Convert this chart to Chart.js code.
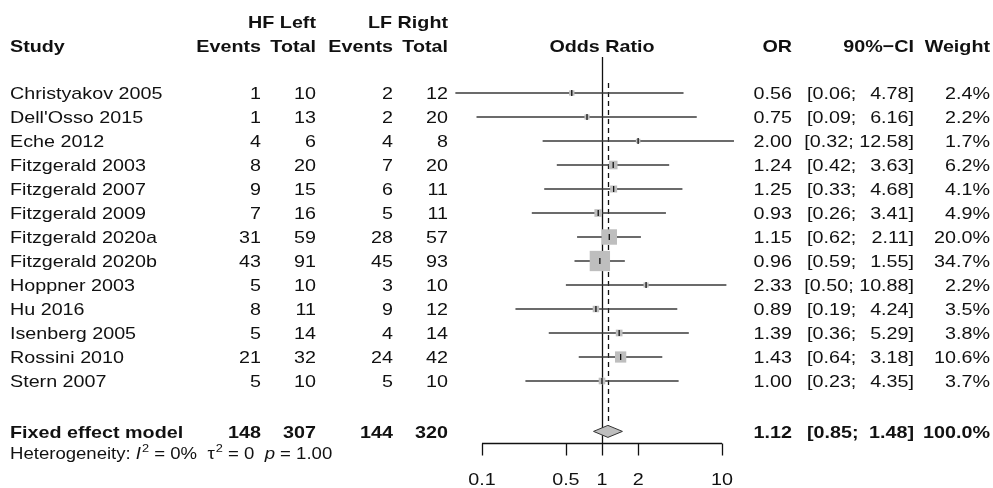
<!DOCTYPE html>
<html>
<head>
<meta charset="utf-8">
<script src="https://cdn.jsdelivr.net/npm/chart.js@4.4.0/dist/chart.umd.min.js"></script>
<style>
  body { margin: 0; background: #fff; }
  canvas { display: block; }
</style>
</head>
<body>
<canvas id="canvasForest" width="993" height="488"></canvas>
<script>
// donnees
const studies = ["Christyakov 2005", "Dell'Osso 2015", "Eche 2012", "Fitzgerald 2003", "Fitzgerald 2007",
    "Fitzgerald 2009", "Fitzgerald 2020a", "Fitzgerald 2020b", "Hoppner 2003", "Hu 2016",
    "Isenberg 2005", "Rossini 2010", "Stern 2007"]
const hfEvents = [1, 1, 4, 8, 9, 7, 31, 43, 5, 8, 5, 21, 5]
const hfTotal = [10, 13, 6, 20, 15, 16, 59, 91, 10, 11, 14, 32, 10]
const lfEvents = [2, 2, 4, 7, 6, 5, 28, 45, 3, 9, 4, 24, 5]
const lfTotal = [12, 20, 8, 20, 11, 11, 57, 93, 10, 12, 14, 42, 10]
const oddsRatio = [0.56, 0.75, 2.00, 1.24, 1.25, 0.93, 1.15, 0.96, 2.33, 0.89, 1.39, 1.43, 1.00]
const ciLower = [0.06, 0.09, 0.32, 0.42, 0.33, 0.26, 0.62, 0.59, 0.50, 0.19, 0.36, 0.64, 0.23]
const ciUpper = [4.78, 6.16, 12.58, 3.63, 4.68, 3.41, 2.11, 1.55, 10.88, 4.24, 5.29, 3.18, 4.35]
const weights = [2.4, 2.2, 1.7, 6.2, 4.1, 4.9, 20.0, 34.7, 2.2, 3.5, 3.8, 10.6, 3.7]
const fixedLabel = "Fixed effect model"
const fixedCounts = [148, 307, 144, 320]
const fixedEffect = [1.12, 0.85, 1.48]   // OR, borne basse, borne haute
const fixedWeight = 100.0
const axisTicks = [0.1, 0.5, 1, 2, 10]
const tickLabels = ["0.1", "0.5", "1", "2", "10"]

const FIXED_ROW = 14.1
const HET_ROW = 15.0
const SX = 1.16   // le texte du modele est un peu etire en largeur
const POLICE = '"Liberation Sans", Arial, sans-serif'
const GRIS = "#bebebe"

function texte(ctx, str, x, y, align, font) {
    ctx.font = font
    let w = ctx.measureText(str).width * SX
    let x0 = x
    if (align === "right") x0 = x - w
    if (align === "center") x0 = x - w / 2
    ctx.save()
    ctx.textAlign = "left"
    ctx.textBaseline = "alphabetic"
    ctx.translate(x0, y)
    ctx.scale(SX, 1)
    ctx.fillText(str, 0, 0)
    ctx.restore()
    return x0 + w
}

// intervalle "[a; b]" : gauche calee a 807, droite a 914, sauf si trop large
function texteIC(ctx, lo, hi, y, font) {
    let complet = "[" + lo.toFixed(2) + "; " + hi.toFixed(2) + "]"
    ctx.font = font
    if (ctx.measureText(complet).width * SX > 914 - 807) {
        texte(ctx, complet, 914, y, "right", font)
    } else {
        texte(ctx, "[" + lo.toFixed(2) + ";", 807, y, "left", font)
        texte(ctx, hi.toFixed(2) + "]", 914, y, "right", font)
    }
}

const forestPlugin = {
    id: "forest",
    beforeDatasetsDraw(chart) {
        let ctx = chart.ctx
        let xs = chart.scales.x
        let ys = chart.scales.y
        let area = chart.chartArea
        ctx.save()
        // ligne d'absence d'effet
        let x1 = Math.round(xs.getPixelForValue(1)) + 0.5
        ctx.strokeStyle = "#111"
        ctx.lineWidth = 1.3
        ctx.beginPath()
        ctx.moveTo(x1, area.top)
        ctx.lineTo(x1, area.bottom)
        ctx.stroke()
        // effet combine en pointille
        let xf = Math.round(xs.getPixelForValue(fixedEffect[0])) + 0.5
        ctx.setLineDash([5, 4])
        ctx.beginPath()
        ctx.moveTo(xf, ys.getPixelForValue(-0.42))
        ctx.lineTo(xf, ys.getPixelForValue(FIXED_ROW) - 6)
        ctx.stroke()
        ctx.restore()
    },
    afterDatasetsDraw(chart) {
        let ctx = chart.ctx
        let xs = chart.scales.x
        let ys = chart.scales.y
        let area = chart.chartArea
        ctx.save()

        // losange du modele a effet fixe
        let yf = ys.getPixelForValue(FIXED_ROW)
        ctx.beginPath()
        ctx.moveTo(xs.getPixelForValue(fixedEffect[1]), yf)
        ctx.lineTo(xs.getPixelForValue(fixedEffect[0]), yf - 6)
        ctx.lineTo(xs.getPixelForValue(fixedEffect[2]), yf)
        ctx.lineTo(xs.getPixelForValue(fixedEffect[0]), yf + 6)
        ctx.closePath()
        ctx.fillStyle = GRIS
        ctx.fill()
        ctx.strokeStyle = "#333"
        ctx.lineWidth = 1
        ctx.stroke()

        // axe des x
        let ya = Math.round(area.bottom) + 0.5
        ctx.strokeStyle = "#111"
        ctx.lineWidth = 1.3
        ctx.beginPath()
        ctx.moveTo(xs.getPixelForValue(axisTicks[0]), ya)
        ctx.lineTo(xs.getPixelForValue(axisTicks[axisTicks.length - 1]), ya)
        for (let t of axisTicks) {
            let xt = Math.round(xs.getPixelForValue(t)) + 0.5
            ctx.moveTo(xt, ya)
            ctx.lineTo(xt, ya + 12)
        }
        ctx.stroke()

        ctx.fillStyle = "#111"
        let normal = "17px " + POLICE
        let gras = "bold 17px " + POLICE
        for (let i in axisTicks) {
            texte(ctx, tickLabels[i], xs.getPixelForValue(axisTicks[i]), 485, "center", normal)
        }

        // entetes
        texte(ctx, "HF Left", 316, 27.6, "right", gras)
        texte(ctx, "LF Right", 448, 27.6, "right", gras)
        let yh = 51.6
        texte(ctx, "Study", 10, yh, "left", gras)
        texte(ctx, "Events", 261, yh, "right", gras)
        texte(ctx, "Total", 316, yh, "right", gras)
        texte(ctx, "Events", 393, yh, "right", gras)
        texte(ctx, "Total", 448, yh, "right", gras)
        texte(ctx, "Odds Ratio", xs.getPixelForValue(1), yh, "center", gras)
        texte(ctx, "OR", 792, yh, "right", gras)
        texte(ctx, "90%\u2212CI", 914, yh, "right", gras)
        texte(ctx, "Weight", 990, yh, "right", gras)

        // lignes des etudes
        for (let i = 0; i < studies.length; i++) {
            let yb = ys.getPixelForValue(i) + 6.1
            texte(ctx, studies[i], 10, yb, "left", normal)
            texte(ctx, String(hfEvents[i]), 261, yb, "right", normal)
            texte(ctx, String(hfTotal[i]), 316, yb, "right", normal)
            texte(ctx, String(lfEvents[i]), 393, yb, "right", normal)
            texte(ctx, String(lfTotal[i]), 448, yb, "right", normal)
            texte(ctx, oddsRatio[i].toFixed(2), 792, yb, "right", normal)
            texteIC(ctx, ciLower[i], ciUpper[i], yb, normal)
            texte(ctx, weights[i].toFixed(1) + "%", 990, yb, "right", normal)
        }

        // modele a effet fixe
        let yb = yf + 6.1
        texte(ctx, fixedLabel, 10, yb, "left", gras)
        texte(ctx, String(fixedCounts[0]), 261, yb, "right", gras)
        texte(ctx, String(fixedCounts[1]), 316, yb, "right", gras)
        texte(ctx, String(fixedCounts[2]), 393, yb, "right", gras)
        texte(ctx, String(fixedCounts[3]), 448, yb, "right", gras)
        texte(ctx, fixedEffect[0].toFixed(2), 792, yb, "right", gras)
        texteIC(ctx, fixedEffect[1], fixedEffect[2], yb, gras)
        texte(ctx, fixedWeight.toFixed(1) + "%", 990, yb, "right", gras)

        // heterogeneite
        let hy = ys.getPixelForValue(HET_ROW) + 5.8
        let petit = "16px " + POLICE
        let ital = "italic 16px " + POLICE
        let sup = "11px " + POLICE
        let x = texte(ctx, "Heterogeneity: ", 10, hy, "left", petit)
        x = texte(ctx, "I", x, hy, "left", ital)
        x = texte(ctx, "2", x + 1, hy - 7, "left", sup)
        x = texte(ctx, " = 0%  \u03c4", x, hy, "left", petit)
        x = texte(ctx, "2", x + 1, hy - 7, "left", sup)
        x = texte(ctx, " = 0  ", x, hy, "left", petit)
        x = texte(ctx, "p", x, hy, "left", ital)
        texte(ctx, " = 1.00", x, hy, "left", petit)

        ctx.restore()
    }
}

function creerForest() {
    let datasets = []
    // marque de l'estimation
    datasets.push({
        type: "scatter",
        data: oddsRatio.map((v, i) => ({x: v, y: i})),
        pointStyle: "line",
        rotation: 90,
        pointRadius: 3,
        borderColor: "#111",
        borderWidth: 1.3,
        order: 0,
        clip: false
    })
    // carres proportionnels au poids
    datasets.push({
        type: "scatter",
        data: oddsRatio.map((v, i) => ({x: v, y: i})),
        pointStyle: "rect",
        pointRadius: weights.map(w => 3.45 * Math.sqrt(w) / Math.SQRT2),
        backgroundColor: GRIS,
        borderWidth: 0,
        order: 1,
        clip: false
    })
    // intervalles de confiance
    for (let i = 0; i < studies.length; i++) {
        datasets.push({
            type: "line",
            data: [{x: ciLower[i], y: i}, {x: ciUpper[i], y: i}],
            borderColor: "#3a3a3a",
            borderWidth: 1.3,
            pointRadius: 0,
            order: 2,
            clip: false
        })
    }

    new Chart(document.getElementById("canvasForest"), {
        type: "scatter",
        data: {datasets: datasets},
        options: {
            responsive: false,
            animation: false,
            events: [],
            layout: {padding: {left: 482, right: 271, top: 57, bottom: 45}},
            plugins: {legend: {display: false}, tooltip: {enabled: false}},
            scales: {
                x: {type: "logarithmic", min: 0.1, max: 10, display: false},
                y: {type: "linear", min: -1.5, max: 14.5833, reverse: true, display: false}
            }
        },
        plugins: [forestPlugin]
    })
}

creerForest()
</script>
</body>
</html>
